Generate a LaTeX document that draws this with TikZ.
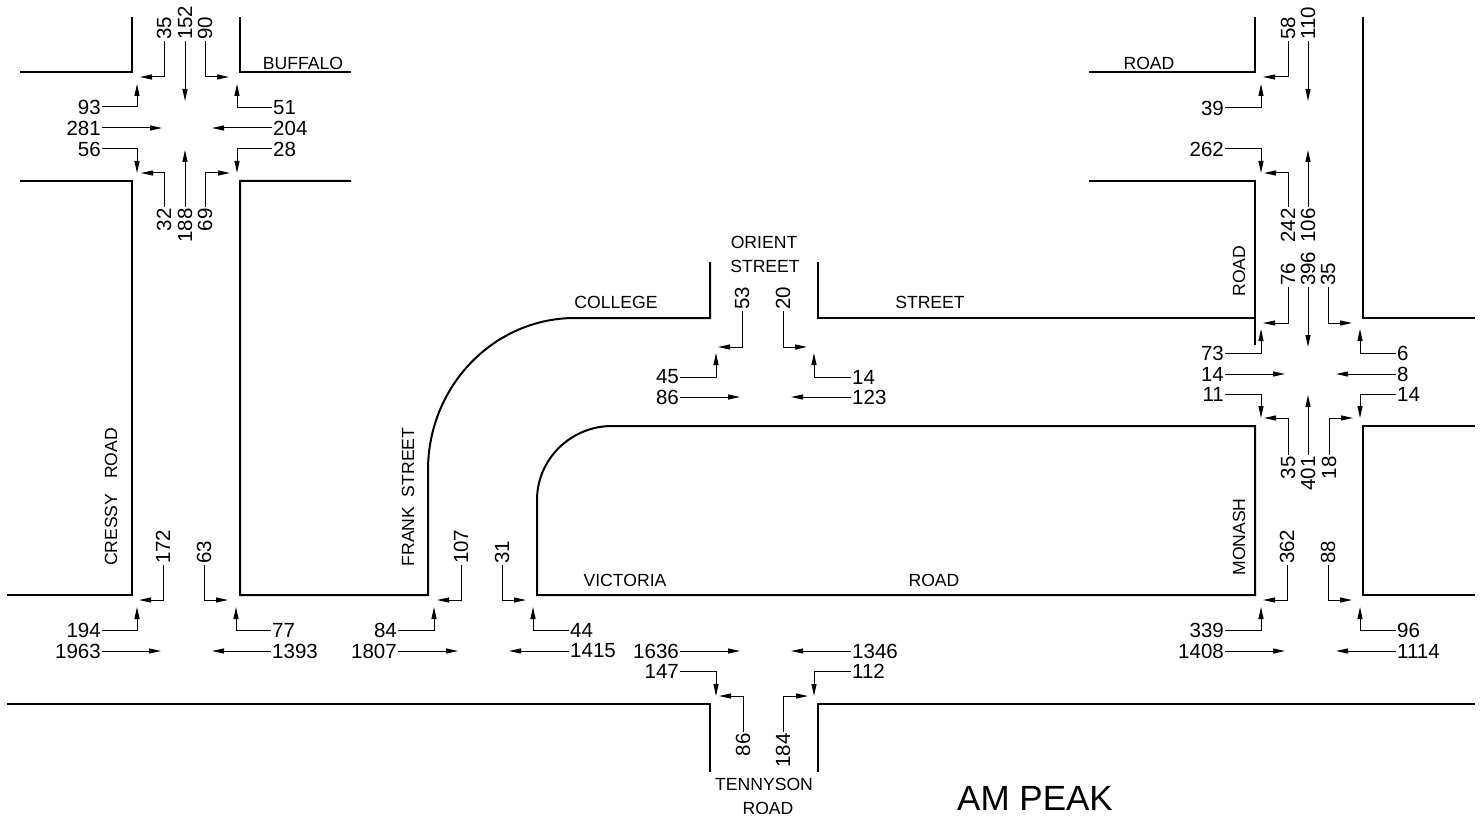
\documentclass[tikz,border=0pt]{standalone}
\usepackage{fontspec}
\setmainfont{Liberation Sans}
\usetikzlibrary{arrows.meta}
\tikzset{
  x=1pt,y=-1pt,
  road/.style={line width=2pt,line join=miter},
  flow/.style={line width=1pt,-{Triangle[length=12pt,width=5pt]}},
  num/.style={inner sep=1pt,font=\fontsize{20.5}{21}\selectfont},
  tl/.style={num,anchor=east},
  tr/.style={num,anchor=west},
  tu/.style={num,rotate=90,anchor=west},
  td/.style={num,rotate=90,anchor=east},
  name label/.style={inner sep=0pt,font=\fontsize{17.6}{18}\selectfont},
  side label/.style={name label,rotate=90},
}
% id, label style, line start x, y, text, path operation, tip x, y
\newcommand\fl[8]{%
  \node[#2] (#1) at (#3,#4) {#5};
  \coordinate (#1-t) at (#7,#8);
  \draw[flow] (#1) #6 (#1-t);
}
\begin{document}
\begin{tikzpicture}
\useasboundingbox (0,0) rectangle (1482,821);
% roads
\draw[road] (20,72) -- (132,72) -- (132,17);
\draw[road] (240,17) -- (240,72) -- (351,72);
\draw[road] (20,181) -- (132,181) -- (132,595) -- (7,595);
\draw[road] (351,181) -- (240,181) -- (240,595) -- (428,595) -- (428,470)
  .. controls (428,386) and (494,318) .. (575,318) -- (710,318) -- (710,262);
\draw[road] (818,262) -- (818,318) -- (1255,318);
\draw[road] (1089,181) -- (1255,181) -- (1255,345);
\draw[road] (1089,72) -- (1255,72) -- (1255,17);
\draw[road] (1363,17) -- (1363,318) -- (1475,318);
\draw[road] (1475,426) -- (1363,426) -- (1363,595) -- (1475,595);
\draw[road] (1255,426) -- (612,426) .. controls (571,426) and (537,459) .. (537,500)
  -- (537,595) -- (1255,595) -- cycle;
\draw[road] (7,704) -- (710,704) -- (710,772);
\draw[road] (818,772) -- (818,704) -- (1475,704);
% road names
\node[name label] (rBuffalo) at (303,63) {BUFFALO};
\node[name label] (rRoadA) at (1149,63) {ROAD};
\node[name label] (rCollege) at (616,302) {COLLEGE};
\node[name label] (rStreetA) at (930,302) {STREET};
\node[name label] (rOrient) at (764,242) {ORIENT};
\node[name label] (rStreetB) at (765,266) {STREET};
\node[name label] (rVictoria) at (625,580) {VICTORIA};
\node[name label] (rRoadB) at (934,580) {ROAD};
\node[name label] (rTennyson) at (764,784) {TENNYSON};
\node[name label] (rRoadC) at (768,808) {ROAD};
\node[side label] (rCressy) at (111,497) {CRESSY\ \ \ ROAD};
\node[side label] (rFrank) at (408,497) {FRANK\ \ STREET};
\node[side label] (rMonash) at (1239,537) {MONASH};
\node[side label] (rRoadD) at (1239,271) {ROAD};
\node[inner sep=0pt,font=\fontsize{35}{36}\selectfont] (title) at (1035,798) {AM PEAK};
% Buffalo / Cressy
\fl{a1}{tu}{164}{41}{35}{|-}{140}{77}
\fl{a2}{tu}{185}{41}{152}{--}{185}{101}
\fl{a3}{tu}{205}{41}{90}{|-}{229}{77}
\fl{a4}{tl}{102}{107}{93}{-|}{137}{84}
\fl{a5}{tl}{102}{128}{281}{--}{162}{128}
\fl{a6}{tl}{102}{149}{56}{-|}{137}{173}
\fl{a7}{tr}{272}{108}{51}{-|}{237}{84}
\fl{a8}{tr}{272}{128}{204}{--}{212}{128}
\fl{a9}{tr}{272}{149}{28}{-|}{237}{173}
\fl{a10}{td}{164}{207}{32}{|-}{141}{173}
\fl{a11}{td}{185}{207}{188}{--}{185}{150}
\fl{a12}{td}{205}{207}{69}{|-}{230}{173}
% Cressy / Victoria
\fl{b1}{tu}{163}{565}{172}{|-}{139}{600}
\fl{b2}{tu}{204}{565}{63}{|-}{228}{600}
\fl{b3}{tl}{102}{630}{194}{-|}{137}{607}
\fl{b4}{tl}{102}{651}{1963}{--}{161}{651}
\fl{b5}{tr}{271}{630}{77}{-|}{236}{607}
\fl{b6}{tr}{271}{651}{1393}{--}{212}{651}
% Frank / Victoria
\fl{c1}{tu}{461}{565}{107}{|-}{437}{600}
\fl{c2}{tu}{502}{565}{31}{|-}{526}{600}
\fl{c3}{tl}{398}{630}{84}{-|}{434}{607}
\fl{c4}{tl}{398}{651}{1807}{--}{458}{651}
\fl{c5}{tr}{569}{630}{44}{-|}{533}{607}
\fl{c6}{tr}{569}{651}{1415}{--}{509}{651}
% Orient
\fl{d1}{tu}{742}{311}{53}{|-}{718}{347}
\fl{d2}{tu}{783}{311}{20}{|-}{807}{347}
\fl{d3}{tl}{680}{377}{45}{-|}{716}{353}
\fl{d4}{tl}{680}{397}{86}{--}{740}{397}
\fl{d5}{tr}{851}{377}{14}{-|}{814}{353}
\fl{d6}{tr}{851}{397}{123}{--}{791}{397}
% Tennyson
\fl{e1}{tl}{680}{651}{1636}{--}{740}{651}
\fl{e2}{tl}{680}{671}{147}{-|}{716}{696}
\fl{e3}{tr}{851}{651}{1346}{--}{791}{651}
\fl{e4}{tr}{851}{671}{112}{-|}{814}{696}
\fl{e5}{td}{743}{732}{86}{|-}{719}{696}
\fl{e6}{td}{783}{732}{184}{|-}{808}{696}
% Monash north
\fl{f1}{tu}{1288}{41}{58}{|-}{1263}{77}
\fl{f2}{tu}{1308}{41}{110}{--}{1308}{101}
\fl{f3}{tl}{1225}{108}{39}{-|}{1261}{84}
\fl{f4}{tl}{1225}{149}{262}{-|}{1261}{173}
\fl{f5}{td}{1288}{207}{242}{|-}{1264}{173}
\fl{f6}{td}{1308}{207}{106}{--}{1308}{150}
% Monash / Orient
\fl{g1}{tu}{1288}{287}{76}{|-}{1263}{323}
\fl{g2}{tu}{1308}{287}{396}{--}{1308}{347}
\fl{g3}{tu}{1328}{287}{35}{|-}{1352}{323}
\fl{g4}{tl}{1225}{353}{73}{-|}{1261}{329}
\fl{g5}{tl}{1225}{374}{14}{--}{1285}{374}
\fl{g6}{tl}{1225}{394}{11}{-|}{1261}{418}
\fl{g7}{tr}{1396}{353}{6}{-|}{1360}{329}
\fl{g8}{tr}{1396}{374}{8}{--}{1336}{374}
\fl{g9}{tr}{1396}{394}{14}{-|}{1360}{418}
\fl{g10}{td}{1288}{455}{35}{|-}{1264}{418}
\fl{g11}{td}{1308}{455}{401}{--}{1308}{395}
\fl{g12}{td}{1329}{455}{18}{|-}{1353}{418}
% Monash / Victoria
\fl{h1}{tu}{1287}{565}{362}{|-}{1263}{600}
\fl{h2}{tu}{1328}{565}{88}{|-}{1352}{600}
\fl{h3}{tl}{1225}{630}{339}{-|}{1261}{607}
\fl{h4}{tl}{1225}{651}{1408}{--}{1285}{651}
\fl{h5}{tr}{1396}{630}{96}{-|}{1360}{607}
\fl{h6}{tr}{1396}{651}{1114}{--}{1336}{651}
\end{tikzpicture}
\end{document}
